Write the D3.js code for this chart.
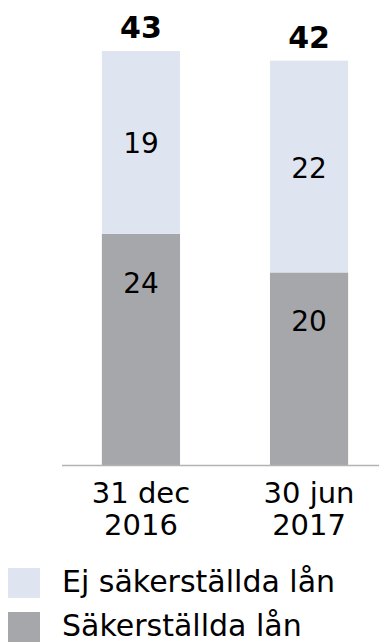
<!DOCTYPE html>
<html>
<head>
<meta charset="utf-8">
<script src="https://cdn.jsdelivr.net/npm/d3@7"></script>
<style>
  body { margin: 0; background: #fff; }
  svg { display: block; font-family: "DejaVu Sans", Verdana, sans-serif; }
</style>
</head>
<body>
<div id="chart"></div>
<script>
// data
const periods = ["31 dec|2016", "30 jun|2017"];
const secured = [24, 20];     // Säkerställda lån
const unsecured = [19, 22];   // Ej säkerställda lån
const totals = [43, 42];
const seriesNames = ["Ej säkerställda lån", "Säkerställda lån"];

const width = 379, height = 643;
const colLight = "#dfe5f0", colDark = "#a6a7aa";

const svg = d3.select("#chart").append("svg")
  .attr("width", width).attr("height", height);

const x = d3.scaleBand().domain(periods).range([57, 393])
  .paddingInner(0.535).paddingOuter(0.267);
const y = d3.scaleLinear().domain([0, 43]).range([465, 51]);

const rows = periods.map((p, i) => ({ p, s: secured[i], u: unsecured[i], t: totals[i] }));

// staplar
svg.selectAll("rect.sec").data(rows).join("rect")
  .attr("x", d => x(d.p)).attr("width", x.bandwidth())
  .attr("y", d => y(d.s)).attr("height", d => y(0) - y(d.s))
  .attr("fill", colDark);

svg.selectAll("rect.uns").data(rows).join("rect")
  .attr("x", d => x(d.p)).attr("width", x.bandwidth())
  .attr("y", d => y(d.s + d.u)).attr("height", d => y(d.s) - y(d.s + d.u))
  .attr("fill", colLight);

// axellinje
svg.append("line")
  .attr("x1", 62).attr("x2", width).attr("y1", y(0) + 0.5).attr("y2", y(0) + 0.5)
  .attr("stroke", "#b3b3b3").attr("stroke-width", 1.5);

// värden
svg.selectAll("text.u").data(rows).join("text")
  .attr("x", d => x(d.p) + x.bandwidth() / 2)
  .attr("y", d => (y(d.s + d.u) + y(d.s)) / 2 + 11)
  .attr("text-anchor", "middle").attr("font-size", 28).attr("fill", "#000")
  .text(d => d.u);

svg.selectAll("text.s").data(rows).join("text")
  .attr("x", d => x(d.p) + x.bandwidth() / 2)
  .attr("y", d => y(d.s) + 59)
  .attr("text-anchor", "middle").attr("font-size", 28).attr("fill", "#000")
  .text(d => d.s);

svg.selectAll("text.t").data(rows).join("text")
  .attr("x", d => x(d.p) + x.bandwidth() / 2)
  .attr("y", d => y(d.t) - 13)
  .attr("text-anchor", "middle").attr("font-size", 30).attr("font-weight", "bold").attr("fill", "#000")
  .text(d => d.t);

// kategorietiketter
const lab = svg.selectAll("text.cat").data(rows).join("text")
  .attr("text-anchor", "middle").attr("font-size", 29).attr("fill", "#000");
lab.each(function(d) {
  const cx = x(d.p) + x.bandwidth() / 2;
  d.p.split("|").forEach((line, k) => {
    d3.select(this).append("tspan").attr("x", cx).attr("y", 503 + k * 32).text(line);
  });
});

// legend
const leg = svg.selectAll("g.leg").data(seriesNames).join("g")
  .attr("transform", (d, i) => `translate(8, ${568 + i * 44})`);
leg.append("rect").attr("width", 32).attr("height", 30)
  .attr("fill", (d, i) => i === 0 ? colLight : colDark);
leg.append("text").attr("x", 54).attr("y", 24)
  .attr("font-size", 30).attr("fill", "#000").text(d => d);
</script>
</body>
</html>
